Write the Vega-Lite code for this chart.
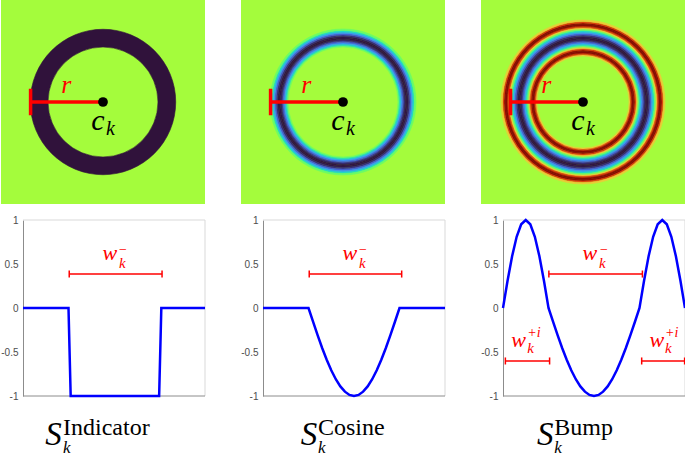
{
"$schema":"https://vega.github.io/schema/vega-lite/v6.json",
"padding":0,
"background":"white",
"config":{
 "axis":{"grid":false},
 "axisY":{"domainColor":"#8c8c8c","ticks":false,"labelFont":"Liberation Sans","labelFontSize":10,"labelColor":"#4d4d4d","labelPadding":5,"offset":-22,"tickCount":5,
  "labelExpr":"datum.value == 1 ? '1' : datum.value == 0.5 ? '0.5' : datum.value == 0 ? '0' : datum.value == -0.5 ? '-0.5' : '-1'"},
 "view":{"stroke":null}
},
"datasets":{
 "bg":[{"x":-1,"x2":1,"y":-1,"y2":1,"v":0}],
 "ann":[{"x":0,"y":0}],
 "ring1":[{"r0":0.539,"r1":0.713,"v":-1}],
 "ring2":[{"r0":0.539,"r1":0.554,"v":-0.131},{"r0":0.554,"r1":0.569,"v":-0.383},{"r0":0.569,"r1":0.583,"v":-0.609},{"r0":0.583,"r1":0.598,"v":-0.793},{"r0":0.598,"r1":0.613,"v":-0.924},{"r0":0.613,"r1":0.627,"v":-0.991},{"r0":0.627,"r1":0.642,"v":-0.991},{"r0":0.642,"r1":0.657,"v":-0.924},{"r0":0.657,"r1":0.672,"v":-0.793},{"r0":0.672,"r1":0.686,"v":-0.609},{"r0":0.686,"r1":0.701,"v":-0.383},{"r0":0.701,"r1":0.716,"v":-0.131}],
 "ring3":[{"r0":0.451,"r1":0.466,"v":0.259},{"r0":0.466,"r1":0.480,"v":0.707},{"r0":0.480,"r1":0.495,"v":0.966},{"r0":0.495,"r1":0.510,"v":0.966},{"r0":0.510,"r1":0.525,"v":0.707},{"r0":0.525,"r1":0.539,"v":0.259},
  {"r0":0.539,"r1":0.554,"v":-0.131},{"r0":0.554,"r1":0.569,"v":-0.383},{"r0":0.569,"r1":0.583,"v":-0.609},{"r0":0.583,"r1":0.598,"v":-0.793},{"r0":0.598,"r1":0.613,"v":-0.924},{"r0":0.613,"r1":0.627,"v":-0.991},{"r0":0.627,"r1":0.642,"v":-0.991},{"r0":0.642,"r1":0.657,"v":-0.924},{"r0":0.657,"r1":0.672,"v":-0.793},{"r0":0.672,"r1":0.686,"v":-0.609},{"r0":0.686,"r1":0.701,"v":-0.383},{"r0":0.701,"r1":0.716,"v":-0.131},
  {"r0":0.716,"r1":0.730,"v":0.259},{"r0":0.730,"r1":0.745,"v":0.707},{"r0":0.745,"r1":0.760,"v":0.966},{"r0":0.760,"r1":0.775,"v":0.966},{"r0":0.775,"r1":0.789,"v":0.707},{"r0":0.789,"r1":0.804,"v":0.259}],
 "hbar":[{"x":-0.71,"x2":0,"y":0}],
 "vbar":[{"x":-0.71,"y":-0.13,"y2":0.13}],
 "rlab":[{"x":-0.36,"y":0.17,"t":"r"}],
 "clab":[{"x":-0.05,"y":-0.27,"t":"c"}],
 "klab":[{"x":0.03,"y":-0.32,"t":"k"}],
 "frameLight":[{"x":0,"x2":1,"y":1}],
 "frameDark":[{"x":0,"x2":1,"y":-1}],
 "frameRight":[{"x":1,"y":-1,"y2":1}],
 "line1":[{"x":0,"y":0},{"x":0.25,"y":0},{"x":0.262,"y":-1},{"x":0.748,"y":-1},{"x":0.76,"y":0},{"x":1,"y":0}],
 "line2":[{"x":0,"y":0},{"x":0.25,"y":0},{"x":0.275,"y":-0.156},{"x":0.3,"y":-0.309},{"x":0.325,"y":-0.454},{"x":0.35,"y":-0.588},{"x":0.375,"y":-0.707},{"x":0.4,"y":-0.809},{"x":0.425,"y":-0.891},{"x":0.45,"y":-0.951},{"x":0.475,"y":-0.988},{"x":0.5,"y":-1},{"x":0.525,"y":-0.988},{"x":0.55,"y":-0.951},{"x":0.575,"y":-0.891},{"x":0.6,"y":-0.809},{"x":0.625,"y":-0.707},{"x":0.65,"y":-0.588},{"x":0.675,"y":-0.454},{"x":0.7,"y":-0.309},{"x":0.725,"y":-0.156},{"x":0.75,"y":0},{"x":1,"y":0}],
 "line3":[{"x":0,"y":0},{"x":0.025,"y":0.309},{"x":0.05,"y":0.588},{"x":0.075,"y":0.809},{"x":0.1,"y":0.951},{"x":0.125,"y":1},{"x":0.15,"y":0.951},{"x":0.175,"y":0.809},{"x":0.2,"y":0.588},{"x":0.225,"y":0.309},{"x":0.25,"y":0},{"x":0.275,"y":-0.156},{"x":0.3,"y":-0.309},{"x":0.325,"y":-0.454},{"x":0.35,"y":-0.588},{"x":0.375,"y":-0.707},{"x":0.4,"y":-0.809},{"x":0.425,"y":-0.891},{"x":0.45,"y":-0.951},{"x":0.475,"y":-0.988},{"x":0.5,"y":-1},{"x":0.525,"y":-0.988},{"x":0.55,"y":-0.951},{"x":0.575,"y":-0.891},{"x":0.6,"y":-0.809},{"x":0.625,"y":-0.707},{"x":0.65,"y":-0.588},{"x":0.675,"y":-0.454},{"x":0.7,"y":-0.309},{"x":0.725,"y":-0.156},{"x":0.75,"y":0},{"x":0.775,"y":0.309},{"x":0.8,"y":0.588},{"x":0.825,"y":0.809},{"x":0.85,"y":0.951},{"x":0.875,"y":1},{"x":0.9,"y":0.951},{"x":0.925,"y":0.809},{"x":0.95,"y":0.588},{"x":0.975,"y":0.309},{"x":1,"y":0}],
 "iv1":[{"x0":0.254,"x1":0.764,"y":0.386}],
 "cap1":[{"x":0.254,"y0":0.346,"y1":0.426},{"x":0.764,"y0":0.346,"y1":0.426}],
 "iv2":[{"x0":0.254,"x1":0.762,"y":0.386}],
 "cap2":[{"x":0.254,"y0":0.346,"y1":0.426},{"x":0.762,"y0":0.346,"y1":0.426}],
 "iv3":[{"x0":0.252,"x1":0.766,"y":0.386},{"x0":0.013,"x1":0.256,"y":-0.602},{"x0":0.762,"x1":0.998,"y":-0.602}],
 "cap3":[{"x":0.252,"y0":0.346,"y1":0.426},{"x":0.766,"y0":0.346,"y1":0.426},{"x":0.013,"y0":-0.642,"y1":-0.562},{"x":0.256,"y0":-0.642,"y1":-0.562},{"x":0.762,"y0":-0.642,"y1":-0.562},{"x":0.998,"y0":-0.642,"y1":-0.562}],
 "w12":[{"x":0.477,"y":0.54,"t":"w"}],
 "sup12":[{"x":0.527,"y":0.61,"t":"−"}],
 "sub12":[{"x":0.527,"y":0.45,"t":"k"}],
 "w3":[{"x":0.477,"y":0.54,"t":"w"},{"x":0.086,"y":-0.443,"t":"w"},{"x":0.845,"y":-0.443,"t":"w"}],
 "sup3":[{"x":0.527,"y":0.61,"t":"−"},{"x":0.133,"y":-0.33,"t":"+i"},{"x":0.89,"y":-0.33,"t":"+i"}],
 "sub3":[{"x":0.527,"y":0.45,"t":"k"},{"x":0.133,"y":-0.51,"t":"k"},{"x":0.89,"y":-0.51,"t":"k"}],
 "tS1":[{"x":0.168,"y":-1.557,"t":"S"}],
 "tP1":[{"x":0.22,"y":-1.443,"t":"Indicator"}],
 "tK1":[{"x":0.22,"y":-1.645,"t":"k"}],
 "tS2":[{"x":0.253,"y":-1.557,"t":"S"}],
 "tP2":[{"x":0.302,"y":-1.443,"t":"Cosine"}],
 "tK2":[{"x":0.302,"y":-1.645,"t":"k"}],
 "tS3":[{"x":0.232,"y":-1.557,"t":"S"}],
 "tP3":[{"x":0.282,"y":-1.443,"t":"Bump"}],
 "tK3":[{"x":0.282,"y":-1.645,"t":"k"}]
},
"vconcat":[
 {"hconcat":[
  {"width":204,"height":204,"layer":[
   {"data":{"name":"bg"},"mark":{"type":"rect"},"encoding":{"x":{"field":"x","type":"quantitative","scale":{"domain":[-1,1]},"axis":null},"x2":{"field":"x2"},"y":{"field":"y","type":"quantitative","scale":{"domain":[-1,1]},"axis":null},"y2":{"field":"y2"},"color":{"field":"v","type":"quantitative","legend":null,"scale":{"type":"linear","interpolate":"rgb","domain":[-1,-0.7778,-0.5556,-0.3333,-0.1111,0,0.1111,0.3333,0.5556,0.7778,1],"range":["#30123b","#4662d7","#36aaf9","#1ae4b6","#72fe5e","#a4fc3c","#c7ef34","#faba39","#f66b19","#cb2a04","#7a0403"]}}}},
   {"data":{"name":"ring1"},"mark":{"type":"arc","theta":0,"theta2":6.2832,"strokeWidth":0.6},"encoding":{"radius":{"field":"r1","type":"quantitative","scale":{"type":"linear","domain":[0,1],"range":[0,102]}},"radius2":{"field":"r0"},"color":{"field":"v","type":"quantitative","legend":null,"scale":{"type":"linear","interpolate":"rgb","domain":[-1,-0.7778,-0.5556,-0.3333,-0.1111,0,0.1111,0.3333,0.5556,0.7778,1],"range":["#30123b","#4662d7","#36aaf9","#1ae4b6","#72fe5e","#a4fc3c","#c7ef34","#faba39","#f66b19","#cb2a04","#7a0403"]}},"stroke":{"field":"v","type":"quantitative","legend":null,"scale":{"type":"linear","interpolate":"rgb","domain":[-1,-0.7778,-0.5556,-0.3333,-0.1111,0,0.1111,0.3333,0.5556,0.7778,1],"range":["#30123b","#4662d7","#36aaf9","#1ae4b6","#72fe5e","#a4fc3c","#c7ef34","#faba39","#f66b19","#cb2a04","#7a0403"]}}}},
   {"data":{"name":"hbar"},"mark":{"type":"rule","color":"#ff0000","strokeWidth":3.5},"encoding":{"x":{"field":"x","type":"quantitative","scale":{"domain":[-1,1]},"axis":null},"x2":{"field":"x2"},"y":{"field":"y","type":"quantitative","scale":{"domain":[-1,1]},"axis":null}}},
   {"data":{"name":"vbar"},"mark":{"type":"rule","color":"#ff0000","strokeWidth":3.5},"encoding":{"x":{"field":"x","type":"quantitative","scale":{"domain":[-1,1]},"axis":null},"y":{"field":"y","type":"quantitative","scale":{"domain":[-1,1]},"axis":null},"y2":{"field":"y2"}}},
   {"data":{"name":"ann"},"mark":{"type":"point","filled":true,"color":"black","opacity":1,"size":95},"encoding":{"x":{"field":"x","type":"quantitative","scale":{"domain":[-1,1]},"axis":null},"y":{"field":"y","type":"quantitative","scale":{"domain":[-1,1]},"axis":null}}},
   {"data":{"name":"rlab"},"mark":{"type":"text","font":"Liberation Serif","fontStyle":"italic","fontSize":26,"color":"#ff0000","align":"center","baseline":"middle"},"encoding":{"x":{"field":"x","type":"quantitative","scale":{"domain":[-1,1]},"axis":null},"y":{"field":"y","type":"quantitative","scale":{"domain":[-1,1]},"axis":null},"text":{"field":"t"}}},
   {"data":{"name":"clab"},"mark":{"type":"text","font":"Liberation Serif","fontStyle":"italic","fontSize":30,"color":"black","align":"center","baseline":"alphabetic"},"encoding":{"x":{"field":"x","type":"quantitative","scale":{"domain":[-1,1]},"axis":null},"y":{"field":"y","type":"quantitative","scale":{"domain":[-1,1]},"axis":null},"text":{"field":"t"}}},
   {"data":{"name":"klab"},"mark":{"type":"text","font":"Liberation Serif","fontStyle":"italic","fontSize":20,"color":"black","align":"left","baseline":"alphabetic"},"encoding":{"x":{"field":"x","type":"quantitative","scale":{"domain":[-1,1]},"axis":null},"y":{"field":"y","type":"quantitative","scale":{"domain":[-1,1]},"axis":null},"text":{"field":"t"}}}
  ]},
  {"width":204,"height":204,"layer":[
   {"data":{"name":"bg"},"mark":{"type":"rect"},"encoding":{"x":{"field":"x","type":"quantitative","scale":{"domain":[-1,1]},"axis":null},"x2":{"field":"x2"},"y":{"field":"y","type":"quantitative","scale":{"domain":[-1,1]},"axis":null},"y2":{"field":"y2"},"color":{"field":"v","type":"quantitative","legend":null,"scale":{"type":"linear","interpolate":"rgb","domain":[-1,-0.7778,-0.5556,-0.3333,-0.1111,0,0.1111,0.3333,0.5556,0.7778,1],"range":["#30123b","#4662d7","#36aaf9","#1ae4b6","#72fe5e","#a4fc3c","#c7ef34","#faba39","#f66b19","#cb2a04","#7a0403"]}}}},
   {"data":{"name":"ring2"},"mark":{"type":"arc","theta":0,"theta2":6.2832,"strokeWidth":0.6},"encoding":{"radius":{"field":"r1","type":"quantitative","scale":{"type":"linear","domain":[0,1],"range":[0,102]}},"radius2":{"field":"r0"},"color":{"field":"v","type":"quantitative","legend":null,"scale":{"type":"linear","interpolate":"rgb","domain":[-1,-0.7778,-0.5556,-0.3333,-0.1111,0,0.1111,0.3333,0.5556,0.7778,1],"range":["#30123b","#4662d7","#36aaf9","#1ae4b6","#72fe5e","#a4fc3c","#c7ef34","#faba39","#f66b19","#cb2a04","#7a0403"]}},"stroke":{"field":"v","type":"quantitative","legend":null,"scale":{"type":"linear","interpolate":"rgb","domain":[-1,-0.7778,-0.5556,-0.3333,-0.1111,0,0.1111,0.3333,0.5556,0.7778,1],"range":["#30123b","#4662d7","#36aaf9","#1ae4b6","#72fe5e","#a4fc3c","#c7ef34","#faba39","#f66b19","#cb2a04","#7a0403"]}}}},
   {"data":{"name":"hbar"},"mark":{"type":"rule","color":"#ff0000","strokeWidth":3.5},"encoding":{"x":{"field":"x","type":"quantitative","scale":{"domain":[-1,1]},"axis":null},"x2":{"field":"x2"},"y":{"field":"y","type":"quantitative","scale":{"domain":[-1,1]},"axis":null}}},
   {"data":{"name":"vbar"},"mark":{"type":"rule","color":"#ff0000","strokeWidth":3.5},"encoding":{"x":{"field":"x","type":"quantitative","scale":{"domain":[-1,1]},"axis":null},"y":{"field":"y","type":"quantitative","scale":{"domain":[-1,1]},"axis":null},"y2":{"field":"y2"}}},
   {"data":{"name":"ann"},"mark":{"type":"point","filled":true,"color":"black","opacity":1,"size":95},"encoding":{"x":{"field":"x","type":"quantitative","scale":{"domain":[-1,1]},"axis":null},"y":{"field":"y","type":"quantitative","scale":{"domain":[-1,1]},"axis":null}}},
   {"data":{"name":"rlab"},"mark":{"type":"text","font":"Liberation Serif","fontStyle":"italic","fontSize":26,"color":"#ff0000","align":"center","baseline":"middle"},"encoding":{"x":{"field":"x","type":"quantitative","scale":{"domain":[-1,1]},"axis":null},"y":{"field":"y","type":"quantitative","scale":{"domain":[-1,1]},"axis":null},"text":{"field":"t"}}},
   {"data":{"name":"clab"},"mark":{"type":"text","font":"Liberation Serif","fontStyle":"italic","fontSize":30,"color":"black","align":"center","baseline":"alphabetic"},"encoding":{"x":{"field":"x","type":"quantitative","scale":{"domain":[-1,1]},"axis":null},"y":{"field":"y","type":"quantitative","scale":{"domain":[-1,1]},"axis":null},"text":{"field":"t"}}},
   {"data":{"name":"klab"},"mark":{"type":"text","font":"Liberation Serif","fontStyle":"italic","fontSize":20,"color":"black","align":"left","baseline":"alphabetic"},"encoding":{"x":{"field":"x","type":"quantitative","scale":{"domain":[-1,1]},"axis":null},"y":{"field":"y","type":"quantitative","scale":{"domain":[-1,1]},"axis":null},"text":{"field":"t"}}}
  ]},
  {"width":204,"height":204,"layer":[
   {"data":{"name":"bg"},"mark":{"type":"rect"},"encoding":{"x":{"field":"x","type":"quantitative","scale":{"domain":[-1,1]},"axis":null},"x2":{"field":"x2"},"y":{"field":"y","type":"quantitative","scale":{"domain":[-1,1]},"axis":null},"y2":{"field":"y2"},"color":{"field":"v","type":"quantitative","legend":null,"scale":{"type":"linear","interpolate":"rgb","domain":[-1,-0.7778,-0.5556,-0.3333,-0.1111,0,0.1111,0.3333,0.5556,0.7778,1],"range":["#30123b","#4662d7","#36aaf9","#1ae4b6","#72fe5e","#a4fc3c","#c7ef34","#faba39","#f66b19","#cb2a04","#7a0403"]}}}},
   {"data":{"name":"ring3"},"mark":{"type":"arc","theta":0,"theta2":6.2832,"strokeWidth":0.6},"encoding":{"radius":{"field":"r1","type":"quantitative","scale":{"type":"linear","domain":[0,1],"range":[0,102]}},"radius2":{"field":"r0"},"color":{"field":"v","type":"quantitative","legend":null,"scale":{"type":"linear","interpolate":"rgb","domain":[-1,-0.7778,-0.5556,-0.3333,-0.1111,0,0.1111,0.3333,0.5556,0.7778,1],"range":["#30123b","#4662d7","#36aaf9","#1ae4b6","#72fe5e","#a4fc3c","#c7ef34","#faba39","#f66b19","#cb2a04","#7a0403"]}},"stroke":{"field":"v","type":"quantitative","legend":null,"scale":{"type":"linear","interpolate":"rgb","domain":[-1,-0.7778,-0.5556,-0.3333,-0.1111,0,0.1111,0.3333,0.5556,0.7778,1],"range":["#30123b","#4662d7","#36aaf9","#1ae4b6","#72fe5e","#a4fc3c","#c7ef34","#faba39","#f66b19","#cb2a04","#7a0403"]}}}},
   {"data":{"name":"hbar"},"mark":{"type":"rule","color":"#ff0000","strokeWidth":3.5},"encoding":{"x":{"field":"x","type":"quantitative","scale":{"domain":[-1,1]},"axis":null},"x2":{"field":"x2"},"y":{"field":"y","type":"quantitative","scale":{"domain":[-1,1]},"axis":null}}},
   {"data":{"name":"vbar"},"mark":{"type":"rule","color":"#ff0000","strokeWidth":3.5},"encoding":{"x":{"field":"x","type":"quantitative","scale":{"domain":[-1,1]},"axis":null},"y":{"field":"y","type":"quantitative","scale":{"domain":[-1,1]},"axis":null},"y2":{"field":"y2"}}},
   {"data":{"name":"ann"},"mark":{"type":"point","filled":true,"color":"black","opacity":1,"size":95},"encoding":{"x":{"field":"x","type":"quantitative","scale":{"domain":[-1,1]},"axis":null},"y":{"field":"y","type":"quantitative","scale":{"domain":[-1,1]},"axis":null}}},
   {"data":{"name":"rlab"},"mark":{"type":"text","font":"Liberation Serif","fontStyle":"italic","fontSize":26,"color":"#ff0000","align":"center","baseline":"middle"},"encoding":{"x":{"field":"x","type":"quantitative","scale":{"domain":[-1,1]},"axis":null},"y":{"field":"y","type":"quantitative","scale":{"domain":[-1,1]},"axis":null},"text":{"field":"t"}}},
   {"data":{"name":"clab"},"mark":{"type":"text","font":"Liberation Serif","fontStyle":"italic","fontSize":30,"color":"black","align":"center","baseline":"alphabetic"},"encoding":{"x":{"field":"x","type":"quantitative","scale":{"domain":[-1,1]},"axis":null},"y":{"field":"y","type":"quantitative","scale":{"domain":[-1,1]},"axis":null},"text":{"field":"t"}}},
   {"data":{"name":"klab"},"mark":{"type":"text","font":"Liberation Serif","fontStyle":"italic","fontSize":20,"color":"black","align":"left","baseline":"alphabetic"},"encoding":{"x":{"field":"x","type":"quantitative","scale":{"domain":[-1,1]},"axis":null},"y":{"field":"y","type":"quantitative","scale":{"domain":[-1,1]},"axis":null},"text":{"field":"t"}}}
  ]}
 ],"spacing":36},
 {"hconcat":[
  {"width":204,"height":176,"layer":[
   {"data":{"name":"frameLight"},"mark":{"type":"rule","color":"#d9d9d9","strokeWidth":1},"encoding":{"x":{"field":"x","type":"quantitative","scale":{"domain":[-0.1209,1],"nice":false,"zero":false},"axis":null},"x2":{"field":"x2"},"y":{"field":"y","type":"quantitative","scale":{"domain":[-1,1]},"title":null}}},
   {"data":{"name":"frameRight"},"mark":{"type":"rule","color":"#d9d9d9","strokeWidth":1},"encoding":{"x":{"field":"x","type":"quantitative","axis":null},"y":{"field":"y","type":"quantitative","title":null},"y2":{"field":"y2"}}},
   {"data":{"name":"frameDark"},"mark":{"type":"rule","color":"#8c8c8c","strokeWidth":1},"encoding":{"x":{"field":"x","type":"quantitative","axis":null},"x2":{"field":"x2"},"y":{"field":"y","type":"quantitative","title":null}}},
   {"data":{"name":"line1"},"mark":{"type":"line","color":"#0000ff","strokeWidth":2.5},"encoding":{"x":{"field":"x","type":"quantitative","axis":null},"y":{"field":"y","type":"quantitative","title":null}}},
   {"data":{"name":"iv1"},"mark":{"type":"rule","color":"#ff0000","strokeWidth":1.5},"encoding":{"x":{"field":"x0","type":"quantitative","axis":null},"x2":{"field":"x1"},"y":{"field":"y","type":"quantitative","title":null}}},
   {"data":{"name":"cap1"},"mark":{"type":"rule","color":"#ff0000","strokeWidth":1.5},"encoding":{"x":{"field":"x","type":"quantitative","axis":null},"y":{"field":"y0","type":"quantitative","title":null},"y2":{"field":"y1"}}},
   {"data":{"name":"w12"},"mark":{"type":"text","font":"Liberation Serif","fontStyle":"italic","fontSize":22,"color":"#ff0000","align":"center","baseline":"alphabetic"},"encoding":{"x":{"field":"x","type":"quantitative","axis":null},"y":{"field":"y","type":"quantitative","title":null},"text":{"field":"t"}}},
   {"data":{"name":"sup12"},"mark":{"type":"text","font":"Liberation Serif","fontSize":14,"color":"#ff0000","align":"left","baseline":"alphabetic"},"encoding":{"x":{"field":"x","type":"quantitative","axis":null},"y":{"field":"y","type":"quantitative","title":null},"text":{"field":"t"}}},
   {"data":{"name":"sub12"},"mark":{"type":"text","font":"Liberation Serif","fontStyle":"italic","fontSize":15,"color":"#ff0000","align":"left","baseline":"alphabetic"},"encoding":{"x":{"field":"x","type":"quantitative","axis":null},"y":{"field":"y","type":"quantitative","title":null},"text":{"field":"t"}}},
   {"data":{"name":"tS1"},"mark":{"type":"text","font":"Liberation Serif","fontStyle":"italic","fontSize":33,"color":"black","align":"center","baseline":"alphabetic"},"encoding":{"x":{"field":"x","type":"quantitative","axis":null},"y":{"field":"y","type":"quantitative","title":null},"text":{"field":"t"}}},
   {"data":{"name":"tP1"},"mark":{"type":"text","font":"Liberation Serif","fontSize":24,"color":"black","align":"left","baseline":"alphabetic"},"encoding":{"x":{"field":"x","type":"quantitative","axis":null},"y":{"field":"y","type":"quantitative","title":null},"text":{"field":"t"}}},
   {"data":{"name":"tK1"},"mark":{"type":"text","font":"Liberation Serif","fontStyle":"italic","fontSize":17,"color":"black","align":"left","baseline":"alphabetic"},"encoding":{"x":{"field":"x","type":"quantitative","axis":null},"y":{"field":"y","type":"quantitative","title":null},"text":{"field":"t"}}}
  ]},
  {"width":204,"height":176,"layer":[
   {"data":{"name":"frameLight"},"mark":{"type":"rule","color":"#d9d9d9","strokeWidth":1},"encoding":{"x":{"field":"x","type":"quantitative","scale":{"domain":[-0.1209,1],"nice":false,"zero":false},"axis":null},"x2":{"field":"x2"},"y":{"field":"y","type":"quantitative","scale":{"domain":[-1,1]},"title":null}}},
   {"data":{"name":"frameRight"},"mark":{"type":"rule","color":"#d9d9d9","strokeWidth":1},"encoding":{"x":{"field":"x","type":"quantitative","axis":null},"y":{"field":"y","type":"quantitative","title":null},"y2":{"field":"y2"}}},
   {"data":{"name":"frameDark"},"mark":{"type":"rule","color":"#8c8c8c","strokeWidth":1},"encoding":{"x":{"field":"x","type":"quantitative","axis":null},"x2":{"field":"x2"},"y":{"field":"y","type":"quantitative","title":null}}},
   {"data":{"name":"line2"},"mark":{"type":"line","color":"#0000ff","strokeWidth":2.5},"encoding":{"x":{"field":"x","type":"quantitative","axis":null},"y":{"field":"y","type":"quantitative","title":null}}},
   {"data":{"name":"iv2"},"mark":{"type":"rule","color":"#ff0000","strokeWidth":1.5},"encoding":{"x":{"field":"x0","type":"quantitative","axis":null},"x2":{"field":"x1"},"y":{"field":"y","type":"quantitative","title":null}}},
   {"data":{"name":"cap2"},"mark":{"type":"rule","color":"#ff0000","strokeWidth":1.5},"encoding":{"x":{"field":"x","type":"quantitative","axis":null},"y":{"field":"y0","type":"quantitative","title":null},"y2":{"field":"y1"}}},
   {"data":{"name":"w12"},"mark":{"type":"text","font":"Liberation Serif","fontStyle":"italic","fontSize":22,"color":"#ff0000","align":"center","baseline":"alphabetic"},"encoding":{"x":{"field":"x","type":"quantitative","axis":null},"y":{"field":"y","type":"quantitative","title":null},"text":{"field":"t"}}},
   {"data":{"name":"sup12"},"mark":{"type":"text","font":"Liberation Serif","fontSize":14,"color":"#ff0000","align":"left","baseline":"alphabetic"},"encoding":{"x":{"field":"x","type":"quantitative","axis":null},"y":{"field":"y","type":"quantitative","title":null},"text":{"field":"t"}}},
   {"data":{"name":"sub12"},"mark":{"type":"text","font":"Liberation Serif","fontStyle":"italic","fontSize":15,"color":"#ff0000","align":"left","baseline":"alphabetic"},"encoding":{"x":{"field":"x","type":"quantitative","axis":null},"y":{"field":"y","type":"quantitative","title":null},"text":{"field":"t"}}},
   {"data":{"name":"tS2"},"mark":{"type":"text","font":"Liberation Serif","fontStyle":"italic","fontSize":33,"color":"black","align":"center","baseline":"alphabetic"},"encoding":{"x":{"field":"x","type":"quantitative","axis":null},"y":{"field":"y","type":"quantitative","title":null},"text":{"field":"t"}}},
   {"data":{"name":"tP2"},"mark":{"type":"text","font":"Liberation Serif","fontSize":24,"color":"black","align":"left","baseline":"alphabetic"},"encoding":{"x":{"field":"x","type":"quantitative","axis":null},"y":{"field":"y","type":"quantitative","title":null},"text":{"field":"t"}}},
   {"data":{"name":"tK2"},"mark":{"type":"text","font":"Liberation Serif","fontStyle":"italic","fontSize":17,"color":"black","align":"left","baseline":"alphabetic"},"encoding":{"x":{"field":"x","type":"quantitative","axis":null},"y":{"field":"y","type":"quantitative","title":null},"text":{"field":"t"}}}
  ]},
  {"width":204,"height":176,"layer":[
   {"data":{"name":"frameLight"},"mark":{"type":"rule","color":"#d9d9d9","strokeWidth":1},"encoding":{"x":{"field":"x","type":"quantitative","scale":{"domain":[-0.1209,1],"nice":false,"zero":false},"axis":null},"x2":{"field":"x2"},"y":{"field":"y","type":"quantitative","scale":{"domain":[-1,1]},"title":null}}},
   {"data":{"name":"frameRight"},"mark":{"type":"rule","color":"#d9d9d9","strokeWidth":1},"encoding":{"x":{"field":"x","type":"quantitative","axis":null},"y":{"field":"y","type":"quantitative","title":null},"y2":{"field":"y2"}}},
   {"data":{"name":"frameDark"},"mark":{"type":"rule","color":"#8c8c8c","strokeWidth":1},"encoding":{"x":{"field":"x","type":"quantitative","axis":null},"x2":{"field":"x2"},"y":{"field":"y","type":"quantitative","title":null}}},
   {"data":{"name":"line3"},"mark":{"type":"line","color":"#0000ff","strokeWidth":2.5},"encoding":{"x":{"field":"x","type":"quantitative","axis":null},"y":{"field":"y","type":"quantitative","title":null}}},
   {"data":{"name":"iv3"},"mark":{"type":"rule","color":"#ff0000","strokeWidth":1.5},"encoding":{"x":{"field":"x0","type":"quantitative","axis":null},"x2":{"field":"x1"},"y":{"field":"y","type":"quantitative","title":null}}},
   {"data":{"name":"cap3"},"mark":{"type":"rule","color":"#ff0000","strokeWidth":1.5},"encoding":{"x":{"field":"x","type":"quantitative","axis":null},"y":{"field":"y0","type":"quantitative","title":null},"y2":{"field":"y1"}}},
   {"data":{"name":"w3"},"mark":{"type":"text","font":"Liberation Serif","fontStyle":"italic","fontSize":22,"color":"#ff0000","align":"center","baseline":"alphabetic"},"encoding":{"x":{"field":"x","type":"quantitative","axis":null},"y":{"field":"y","type":"quantitative","title":null},"text":{"field":"t"}}},
   {"data":{"name":"sup3"},"mark":{"type":"text","font":"Liberation Serif","fontStyle":"italic","fontSize":14,"color":"#ff0000","align":"left","baseline":"alphabetic"},"encoding":{"x":{"field":"x","type":"quantitative","axis":null},"y":{"field":"y","type":"quantitative","title":null},"text":{"field":"t"}}},
   {"data":{"name":"sub3"},"mark":{"type":"text","font":"Liberation Serif","fontStyle":"italic","fontSize":15,"color":"#ff0000","align":"left","baseline":"alphabetic"},"encoding":{"x":{"field":"x","type":"quantitative","axis":null},"y":{"field":"y","type":"quantitative","title":null},"text":{"field":"t"}}},
   {"data":{"name":"tS3"},"mark":{"type":"text","font":"Liberation Serif","fontStyle":"italic","fontSize":33,"color":"black","align":"center","baseline":"alphabetic"},"encoding":{"x":{"field":"x","type":"quantitative","axis":null},"y":{"field":"y","type":"quantitative","title":null},"text":{"field":"t"}}},
   {"data":{"name":"tP3"},"mark":{"type":"text","font":"Liberation Serif","fontSize":24,"color":"black","align":"left","baseline":"alphabetic"},"encoding":{"x":{"field":"x","type":"quantitative","axis":null},"y":{"field":"y","type":"quantitative","title":null},"text":{"field":"t"}}},
   {"data":{"name":"tK3"},"mark":{"type":"text","font":"Liberation Serif","fontStyle":"italic","fontSize":17,"color":"black","align":"left","baseline":"alphabetic"},"encoding":{"x":{"field":"x","type":"quantitative","axis":null},"y":{"field":"y","type":"quantitative","title":null},"text":{"field":"t"}}}
  ]}
 ],"spacing":30}
],
"spacing":11
}
